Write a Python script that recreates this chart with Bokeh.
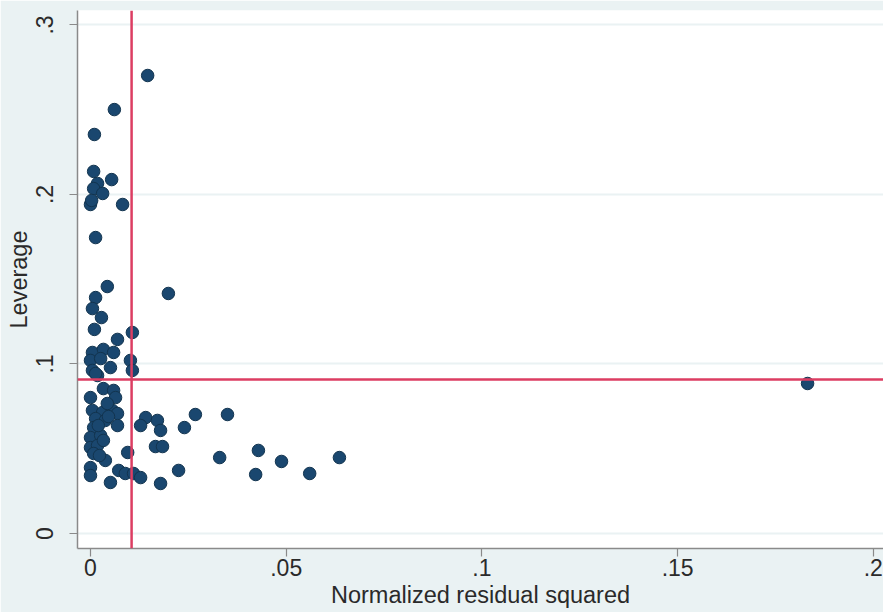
from bokeh.plotting import figure
from bokeh.models import Range1d, FixedTicker, Span
from bokeh.embed import file_html
from bokeh.resources import INLINE

# Normalized residual squared (x) and leverage (y) for each observation
resid2 = [
    0.0146, 0.0061, 0.0010, 0.0008, 0.0054, 0.0018, 0.0008, 0.0031, 0.0000, 0.0003,
    0.0082, 0.0013, 0.0043, 0.0199, 0.0013, 0.0005, 0.0028, 0.0010, 0.0069, 0.0107,
    0.0005, 0.0033, 0.0059, 0.0000, 0.0026, 0.0051, 0.0005, 0.0018, 0.0102, 0.0107,
    0.0033, 0.0059, 0.0000, 0.0064, 0.0005, 0.0031, 0.0056, 0.0069, 0.0013, 0.0038,
    0.0008, 0.0069, 0.0000, 0.0026, 0.0000, 0.0018, 0.0008, 0.0038, 0.0095, 0.0000,
    0.0000, 0.0072, 0.0089, 0.0110, 0.0128, 0.0051, 0.0179, 0.0141, 0.0171, 0.0128,
    0.0179, 0.0166, 0.0184, 0.0268, 0.0350, 0.0240, 0.0225, 0.0330, 0.0429, 0.0422,
    0.0488, 0.0560, 0.0636, 0.1832, 0.0043, 0.0020, 0.0033, 0.0013, 0.0046, 0.0023,
]
leverage = [
    0.2702, 0.2501, 0.2354, 0.2136, 0.2088, 0.2065, 0.2035, 0.2006, 0.1941, 0.1965,
    0.1941, 0.1746, 0.1457, 0.1416, 0.1392, 0.1327, 0.1274, 0.1204, 0.1145, 0.1186,
    0.1068, 0.1086, 0.1068, 0.1021, 0.1032, 0.0979, 0.0962, 0.0932, 0.1021, 0.0962,
    0.0855, 0.0844, 0.0802, 0.0802, 0.0726, 0.0714, 0.0726, 0.0708, 0.0678, 0.0667,
    0.0625, 0.0637, 0.0566, 0.0578, 0.0507, 0.0519, 0.0472, 0.0431, 0.0478, 0.0389,
    0.0342, 0.0372, 0.0354, 0.0354, 0.0330, 0.0301, 0.0295, 0.0684, 0.0667, 0.0637,
    0.0608, 0.0513, 0.0513, 0.0702, 0.0702, 0.0625, 0.0372, 0.0448, 0.0490, 0.0348,
    0.0425, 0.0354, 0.0448, 0.0885, 0.0767, 0.0637, 0.0549, 0.0944, 0.0690, 0.0460,
]

# Reference lines: mean normalized residual squared and mean leverage
mean_resid2 = 0.0105
mean_leverage = 0.0909

x_ticks = [0, 0.05, 0.1, 0.15, 0.2]
x_tick_labels = ["0", ".05", ".1", ".15", ".2"]
y_ticks = [0, 0.1, 0.2, 0.3]
y_tick_labels = ["0", ".1", ".2", ".3"]

FONT = "Liberation Sans"
NAVY = "#1a476f"
REDLINE = "#dc3d62"
REGION_BG = "#eaf2f3"
TEXT = "#2a2a2a"

p = figure(
    width=883, height=612,
    output_backend="svg", toolbar_location=None,
    x_range=Range1d(-0.00332, 0.2026),
    y_range=Range1d(-0.00885, 0.30855),
    min_border_left=77, min_border_right=0,
    min_border_top=10, min_border_bottom=64,
    background_fill_color="white",
    border_fill_color=REGION_BG,
    outline_line_color=None,
)

# Grid: horizontal lines only
p.xgrid.visible = False
p.ygrid.grid_line_color = REGION_BG
p.ygrid.grid_line_width = 2
p.ygrid.ticker = FixedTicker(ticks=y_ticks)

# Axes
for ax in (p.xaxis[0], p.yaxis[0]):
    ax.axis_line_color = "#8a8a8a"
    ax.axis_line_width = 1.5
    ax.major_tick_line_color = "#8a8a8a"
    ax.major_tick_line_width = 1.2
    ax.major_tick_in = 0
    ax.major_tick_out = 8
    ax.minor_tick_line_color = None
    ax.major_label_text_font = FONT
    ax.major_label_text_font_size = "23px"
    ax.major_label_text_color = TEXT
    ax.axis_label_text_font = FONT
    ax.axis_label_text_font_size = "23.5px"
    ax.axis_label_text_font_style = "normal"
    ax.axis_label_text_color = TEXT

p.xaxis.ticker = FixedTicker(ticks=x_ticks)
p.xaxis.major_label_overrides = {t: s for t, s in zip(x_ticks, x_tick_labels)}
p.xaxis.axis_label = "Normalized residual squared"
p.xaxis.major_label_standoff = 2
p.xaxis.axis_label_standoff = 3

p.yaxis.ticker = FixedTicker(ticks=y_ticks)
p.yaxis.major_label_overrides = {t: s for t, s in zip(y_ticks, y_tick_labels)}
p.yaxis.major_label_orientation = "vertical"
p.yaxis.axis_label = "Leverage"
p.yaxis.major_label_standoff = 16
p.yaxis.axis_label_standoff = 2

# Reference lines at the means
p.add_layout(Span(location=mean_leverage, dimension="width",
                  line_color=REDLINE, line_width=2.5))
p.add_layout(Span(location=mean_resid2, dimension="height",
                  line_color=REDLINE, line_width=2.5))

# Observations
p.scatter(resid2, leverage, size=12.5, fill_color=NAVY, line_color="#12344f",
          line_width=1)

open("out.html", "w").write(file_html(p, INLINE))
